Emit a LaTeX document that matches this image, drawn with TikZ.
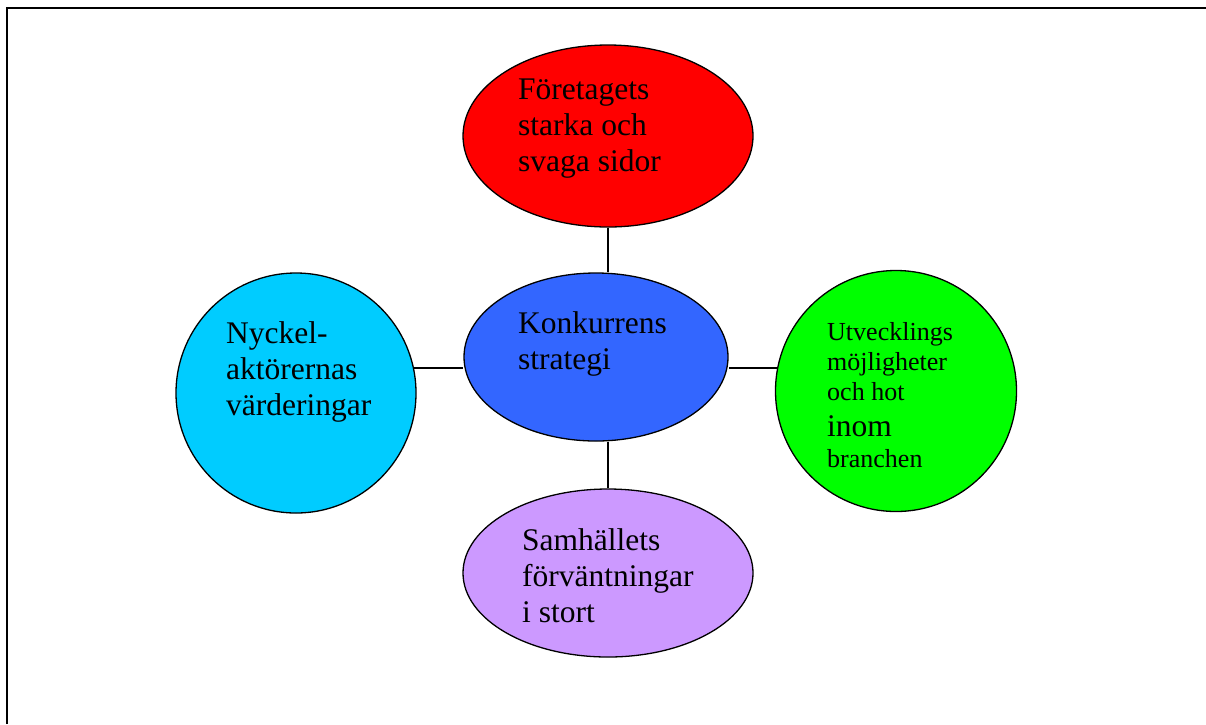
\documentclass[tikz,border=0pt]{standalone}
\usepackage{fontspec}
\setmainfont{Liberation Serif}
\usetikzlibrary{shapes.geometric}
\definecolor{cred}{RGB}{255,0,0}
\definecolor{cblue}{RGB}{51,102,255}
\definecolor{ccyan}{RGB}{0,204,255}
\definecolor{cgreen}{RGB}{0,255,0}
\definecolor{cpurple}{RGB}{204,153,255}
\tikzset{
  bubble/.style={ellipse, draw=black, line width=1.3pt, inner sep=0pt},
  conn/.style={draw=black, line width=1.3pt},
  frameline/.style={draw=black, line width=1.5pt},
  lbl/.style={anchor=base west, inner sep=0pt, font=\fontsize{31.5}{36}\selectfont},
  slbl/.style={anchor=base west, inner sep=0pt, font=\fontsize{26}{30}\selectfont}
}
\begin{document}
\begin{tikzpicture}[x=1pt,y=-1pt]
\useasboundingbox (0,0) rectangle (1206,724);
\coordinate (fa) at (7,724);
\coordinate (fb) at (7,8);
\coordinate (fc) at (1206,8);
\draw[frameline] (fa) -- (fb) -- (fc);

\node[bubble, fill=cred, minimum width=290, minimum height=182] (red) at (608,136) {};
\node[bubble, fill=cblue, minimum width=264, minimum height=168] (blue) at (596,357) {};
\node[bubble, fill=cpurple, minimum width=290, minimum height=168] (purple) at (608,573) {};
\node[bubble, fill=ccyan, minimum width=240, minimum height=240] (cyan) at (296,393) {};
\node[bubble, fill=cgreen, minimum width=241, minimum height=241] (green) at (896,391) {};

\draw[conn] (red.south) -- (red.south |- blue.north);
\draw[conn] (purple.north) -- (purple.north |- blue.south);
\draw[conn] (cyan.12) -- (cyan.12 -| blue.west);
\draw[conn] (green.169) -- (green.169 -| blue.east);

\node[lbl] (tred) at (518,99) {\begin{tabular}[t]{@{}l@{}}Företagets\\starka och\\svaga sidor\end{tabular}};
\node[lbl] (tblue) at (518,333) {\begin{tabular}[t]{@{}l@{}}Konkurrens\\strategi\end{tabular}};
\node[lbl] (tcyan) at (226,343) {\begin{tabular}[t]{@{}l@{}}Nyckel-\\aktörernas\\värderingar\end{tabular}};
\node[lbl] (tpurple) at (522,550) {\begin{tabular}[t]{@{}l@{}}Samhällets\\förväntningar\\i stort\end{tabular}};
\node[slbl] (tgreen) at (827,340) {\begin{tabular}[t]{@{}l@{}}Utvecklings\\möjligheter\\och hot\\[6.5pt]{\fontsize{31.5}{36}\selectfont inom}\\[1pt]branchen\end{tabular}};
\end{tikzpicture}
\end{document}
